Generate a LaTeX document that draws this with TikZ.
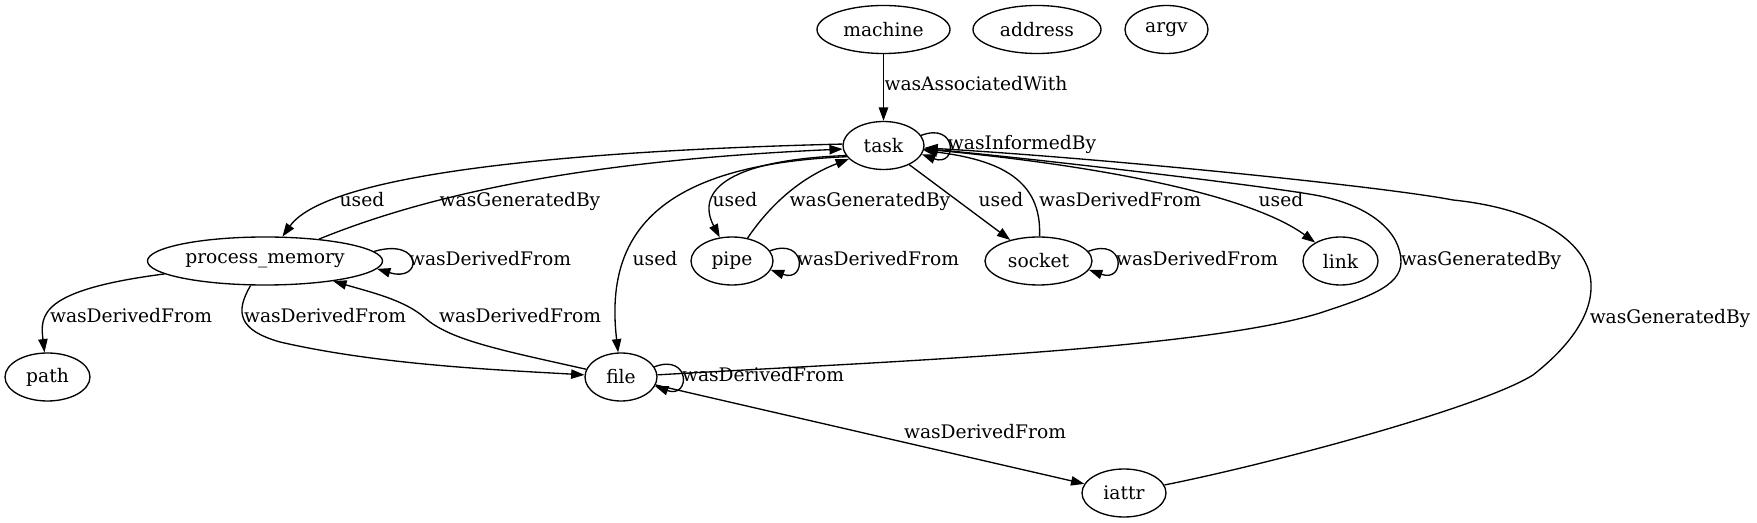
\documentclass[tikz,border=0pt]{standalone}
\usepackage{fontspec}
\setmainfont{DejaVu Serif}
\usetikzlibrary{shapes.geometric,arrows.meta,calc}
\begin{document}
\begin{tikzpicture}[x=0.75pt,y=-0.75pt,
  every node/.style={font=\fontsize{14pt}{16pt}\selectfont},
  gnode/.style={ellipse, draw, line width=1pt, inner sep=0pt, minimum height=36pt},
  edge/.style={line width=1pt, -{Triangle[length=10pt,width=7pt]}},
  lbl/.style={inner sep=0pt, text height=0.73em, text depth=0pt}]
\useasboundingbox (0,0) rectangle (1757,523);

% nodes
\node[gnode, minimum width=99.75pt] (machine) at (883.5,29.5) {machine};
\node[gnode, minimum width=96pt] (address) at (1037,29.5) {address};
\node[gnode, minimum width=62.25pt] (argv) at (1166.5,29.5) {argv};
\node[gnode, minimum width=60.75pt] (task) at (883.5,145.5) {task};
\node[gnode, minimum width=176.25pt] (pm) at (265,261) {process\_memory};
\node[gnode, minimum width=61.5pt] (pipe) at (732,261) {pipe};
\node[gnode, minimum width=80.25pt] (socket) at (1038.5,261) {socket};
\node[gnode, minimum width=56.25pt] (link) at (1340.5,261) {link};
\node[gnode, minimum width=63.75pt] (path) at (47.5,377) {path};
\node[gnode, minimum width=54pt] (file) at (621,377) {file};
\node[gnode, minimum width=63pt] (iattr) at (1124,493) {iattr};

% machine -> task
\draw[edge] (machine) -- (task)
  node[lbl] (lAssoc) at (976,86) {wasAssociatedWith};

% task self loop
\draw[edge] (task.15) .. controls ($(task.east)+(33,-24)$) and ($(task.east)+(33,22)$) .. (task.-13.5)
  node[lbl] (lInf) at (1022,145) {wasInformedBy};

% task -> process_memory
\draw[edge] (task.178) .. controls (600,150) and (330,170) .. (pm)
  node[lbl] (lUsedPM) at (362,202) {used};
% process_memory -> task
\draw[edge] (pm) .. controls (440,190) and (600,160) .. (task.185)
  node[lbl] (lGenPM) at (520,202) {wasGeneratedBy};

% task -> pipe
\draw[edge] (task.195) .. controls (730,160) and (695,190) .. (pipe)
  node[lbl] (lUsedPipe) at (735,202) {used};
% pipe -> task
\draw[edge] (pipe) .. controls (770,205) and (800,178) .. (task)
  node[lbl] (lGenPipe) at (870,202) {wasGeneratedBy};

% task -> file
\draw[edge] (task.197) .. controls (650,165) and (605,240) .. (file)
  node[lbl] (lUsedFile) at (655,261) {used};

% task -> socket
\draw[edge] (task) -- (socket)
  node[lbl] (lUsedSock) at (1001,202) {used};
% socket -> task
\draw[edge] (socket) .. controls (1042,180) and (1000,160) .. (task)
  node[lbl] (lDerSock) at (1120,202) {wasDerivedFrom};

% task -> link
\draw[edge] (task) .. controls (1100,165) and (1250,195) .. (link)
  node[lbl] (lUsedLink) at (1281,202) {used};

% file -> task
\draw[edge] (file) .. controls (877,362) and (1200,350) .. (1320,313)
  .. controls (1365,298) and (1401,287) .. (1401,262)
  .. controls (1401,232) and (1370,206) .. (1320,196)
  .. controls (1270,186) and (1000,155) .. (task)
  node[lbl] (lGenFile) at (1481,261) {wasGeneratedBy};

% iattr -> task
\draw[edge] (iattr) .. controls (1270,464) and (1480,408) .. (1533,375)
  .. controls (1565,350) and (1592,318) .. (1591,285)
  .. controls (1591,250) and (1550,210) .. (1453,200)
  .. controls (1380,186) and (1100,158) .. (task)
  node[lbl] (lGenIattr) at (1670,319) {wasGeneratedBy};

% process_memory self loop
\draw[edge] (pm.5.35) .. controls ($(pm.east)+(40,-24)$) and ($(pm.east)+(40,22)$) .. (pm.-4.7)
  node[lbl] (lDerPM) at (490,261) {wasDerivedFrom};

% pipe self loop
\draw[edge] (pipe.15) .. controls ($(pipe.east)+(33,-24)$) and ($(pipe.east)+(33,22)$) .. (pipe.-13.3)
  node[lbl] (lDerPipe) at (878,261) {wasDerivedFrom};

% socket self loop
\draw[edge] (socket.11.6) .. controls ($(socket.east)+(33,-24)$) and ($(socket.east)+(33,22)$) .. (socket.-10.3)
  node[lbl] (lDerSockLoop) at (1197,261) {wasDerivedFrom};

% process_memory -> path
\draw[edge] (pm) .. controls (40,290) and (40,315) .. (path)
  node[lbl] (lDerPath) at (131,318) {wasDerivedFrom};

% process_memory -> file
\draw[edge] (pm) .. controls (235,312) and (238,330) .. (280,342)
  .. controls (380,365) and (500,370) .. (file)
  node[lbl] (lDerPMFile) at (325,318) {wasDerivedFrom};

% file -> process_memory
\draw[edge] (file) .. controls (500,350) and (450,340) .. (425,318)
  .. controls (405,300) and (370,292) .. (pm)
  node[lbl] (lDerFilePM) at (520,318) {wasDerivedFrom};

% file self loop
\draw[edge] (file.17) .. controls ($(file.east)+(33,-24)$) and ($(file.east)+(33,22)$) .. (file.-15.1)
  node[lbl] (lDerFileLoop) at (763,377) {wasDerivedFrom};

% file -> iattr
\draw[edge] (file) -- (iattr)
  node[lbl] (lDerIattr) at (985,434) {wasDerivedFrom};

\end{tikzpicture}
\end{document}
